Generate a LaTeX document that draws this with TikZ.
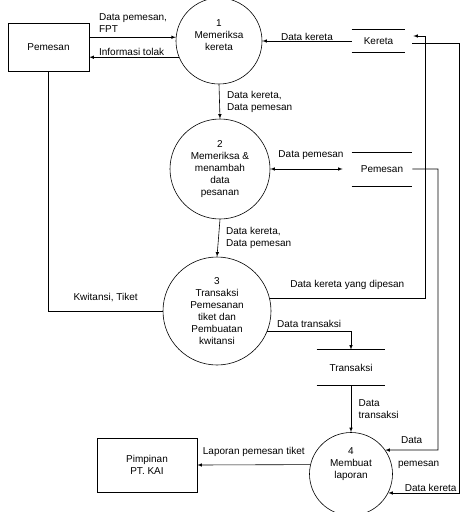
\documentclass[tikz,border=0pt]{standalone}
\usepackage{fontspec}
\setmainfont{Liberation Sans}
\usetikzlibrary{shapes.geometric, arrows}

\begin{document}
\begin{tikzpicture}[
    x=1pt, y=-1pt, >=latex, line width=0.6pt,
    every node/.style={font=\fontsize{10}{12}\selectfont},
    entity/.style={rectangle, draw, align=center, line width=0.6pt},
    proc/.style={circle, draw, inner sep=0pt, line width=0.6pt},
    store/.style={rectangle, inner sep=0pt, align=center}
]
\useasboundingbox (0,0) rectangle (474,512);

% terminator
\node (pemesan) [entity, minimum width=81pt, minimum height=48pt] at (48.5,47) {Pemesan};
\node (pimpinan) [entity, minimum width=100pt, minimum height=54pt] at (147,465) {Pimpinan\\PT. KAI};

% proses
\node (p1) [proc, minimum size=86pt] at (219,41) {};
\node (p2) [proc, minimum size=100pt] at (220,169) {};
\node (p3) [proc, minimum size=108pt] at (217,311) {};
\node (p4) [proc, minimum size=83pt] at (351,474) {};
\node (t1) [align=center] at (219,35.5) {1\\Memeriksa\\kereta};
\node (t2) [align=center] at (220,169) {2\\Memeriksa \&\\menambah\\data\\pesanan};
\node (t3) [align=center] at (217,311) {3\\Transaksi\\Pemesanan\\tiket dan\\Pembuatan\\kwitansi};
\node (t4) [align=center] at (351,464) {4\\Membuat\\laporan};

% data store
\node (kereta) [store, minimum width=53pt, minimum height=22pt] at (378.5,41) {Kereta};
\node (dpemesan) [store, minimum width=60pt, minimum height=33pt] at (382,169) {Pemesan};
\node (transaksi) [store, minimum width=68pt, minimum height=35pt] at (351,367.5) {Transaksi};
\foreach \s in {kereta, dpemesan, transaksi}
    \draw (\s.north west) -- (\s.north east) (\s.south west) -- (\s.south east);

\coordinate (kA) at (425,36);
\coordinate (kB) at (459,43);
\coordinate (kC) at (438,450);

\draw[->] (pemesan.east |- p1.175) -- node[pos=0, above right, xshift=8pt, yshift=3pt, align=left, inner sep=1.5pt] {Data pemesan,\\FPT} (p1.175);
\draw[->] (p1.202) -- node[pos=1, above right, xshift=8pt, inner sep=1.5pt] {Informasi tolak} (pemesan.east |- p1.202);
\draw[->] (kereta.west) -- node[above, inner sep=0.5pt] {Data kereta} (p1.east);
\draw[->] (p1.south) -- node[right, xshift=4pt, align=left] {Data kereta,\\Data pemesan} (p2.north);
\draw[<->, shorten >=9pt] (p2.east) -- node[above=6pt] {Data pemesan} (dpemesan.west);
\draw[->] (p2.south) -- node[right, xshift=4pt, align=left] {Data kereta,\\Data pemesan} (p3.north);
\draw (p3.west) -| node[above=6pt, pos=0.25] {Kwitansi, Tiket} (pemesan.south);
\draw[->, shorten >=8pt] (p3.14) -| node[above=5pt, pos=0.25] {Data kereta yang dipesan} (kA) -- (kA -| kereta.east);
\draw[->] (p3.338) -| node[above, pos=0.25] {Data transaksi} (transaksi.north);
\draw[->] (transaksi.south) -- node[right, xshift=4pt, align=left] {Data\\transaksi} (p4.north);
\draw[->, shorten <=7pt] (kB -| kereta.east) -- (kB) |- node[above, pos=0.7, inner sep=1.5pt] {Data kereta} (p4.333);
\draw[->] (dpemesan.east) -| (kC) -- node[above=3pt] {Data} node[below=7pt, xshift=7pt] {pemesan} (p4.35);
\draw[->] (p4.167) -- node[above=5pt] {Laporan pemesan tiket} (pimpinan.east);
\end{tikzpicture}
\end{document}
